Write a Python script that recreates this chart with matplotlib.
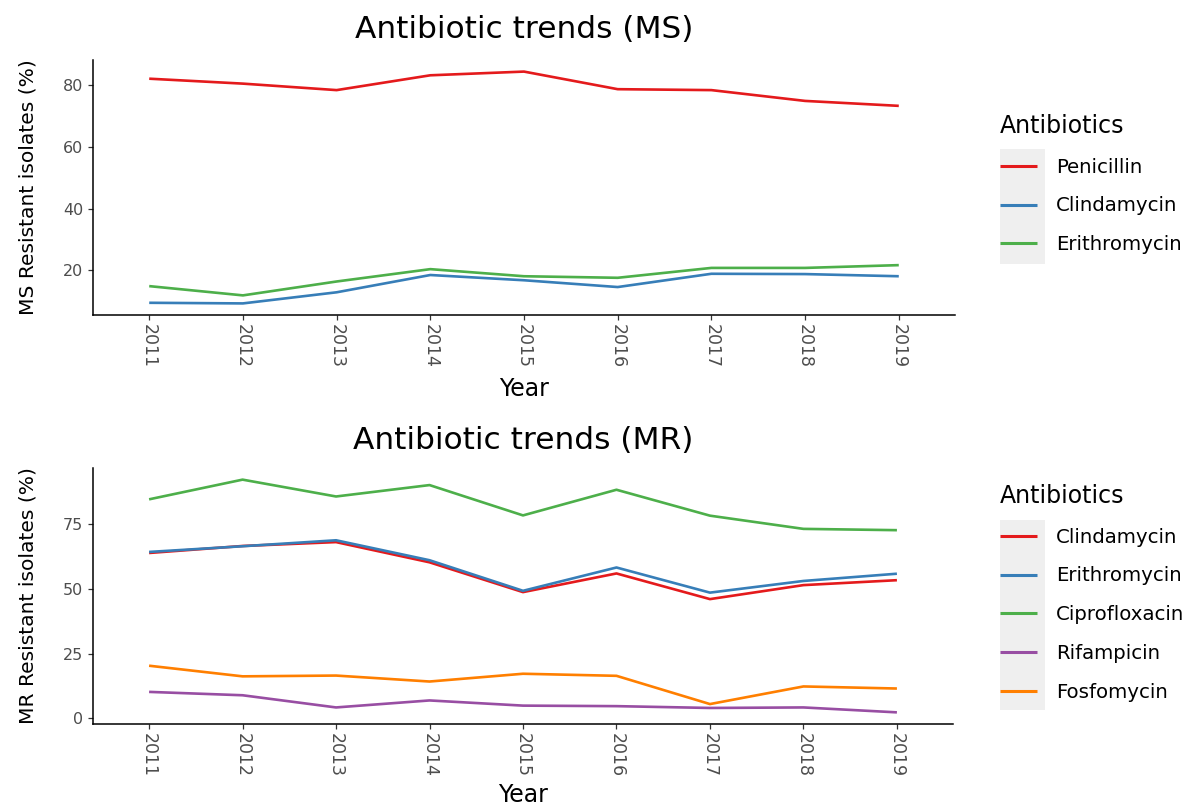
import matplotlib
matplotlib.use("Agg")
import matplotlib.pyplot as plt
from matplotlib.patches import Rectangle

years = [2011, 2012, 2013, 2014, 2015, 2016, 2017, 2018, 2019]

# MS isolates
ms_names = ["Penicillin", "Clindamycin", "Erithromycin"]
ms_penicillin = [82.1, 80.5, 78.4, 83.2, 84.4, 78.7, 78.4, 74.9, 73.3]
ms_clindamycin = [9.5, 9.3, 12.9, 18.5, 16.8, 14.6, 18.9, 18.8, 18.1]
ms_erithromycin = [14.9, 11.9, 16.4, 20.4, 18.1, 17.6, 20.8, 20.8, 21.7]

# MR isolates
mr_names = ["Clindamycin", "Erithromycin", "Ciprofloxacin", "Rifampicin", "Fosfomycin"]
mr_clindamycin = [63.8, 66.5, 68.0, 60.2, 48.7, 55.9, 46.0, 51.4, 53.3]
mr_erithromycin = [64.2, 66.4, 68.7, 61.0, 49.2, 58.2, 48.5, 53.0, 55.8]
mr_ciprofloxacin = [84.5, 92.1, 85.6, 90.0, 78.3, 88.2, 78.2, 73.1, 72.6]
mr_rifampicin = [10.2, 8.9, 4.2, 6.9, 4.9, 4.7, 4.0, 4.2, 2.3]
mr_fosfomycin = [20.3, 16.2, 16.5, 14.2, 17.2, 16.4, 5.5, 12.3, 11.5]

set1 = ["#E41A1C", "#377EB8", "#4DAF4A", "#984EA3", "#FF7F00"]

W, H = 1192, 807
fig = plt.figure(figsize=(W / 100, H / 100), dpi=100)


def px_box(left, top, right, bottom):
    return [left / W, 1 - bottom / H, (right - left) / W, (bottom - top) / H]


def panel(rect, series, names, title, ylabel, yticks, title_y, legend_top, key_box,
          xlabel_y=-0.245):
    ax = fig.add_axes(rect)
    for vals, name, col in zip(series, names, set1):
        ax.plot(years, vals, color=col, lw=1.9, label=name, solid_capstyle="butt")

    lo = min(min(s) for s in series)
    hi = max(max(s) for s in series)
    pad = 0.05 * (hi - lo)
    ax.set_ylim(lo - pad, hi + pad)
    ax.set_xlim(years[0] - 0.6, years[-1] + 0.6)

    ax.set_xticks(years)
    ax.set_xticklabels([str(y) for y in years], rotation=-90)
    ax.set_yticks(yticks)
    ax.tick_params(axis="both", colors="#333333", length=3.5, width=0.9,
                   labelsize=11.5, labelcolor="#4D4D4D")
    ax.tick_params(axis="x", pad=3, labelsize=12.5)
    for s in ["top", "right"]:
        ax.spines[s].set_visible(False)
    for s in ["left", "bottom"]:
        ax.spines[s].set_linewidth(1.1)
        ax.spines[s].set_color("black")

    ax.set_xlabel("Year", fontsize=17)
    ax.xaxis.set_label_coords(0.5, xlabel_y)
    ax.set_ylabel(ylabel, fontsize=14.6)
    ax.yaxis.label.set_va("center")
    ax.yaxis.set_label_coords(-0.075, 0.5)

    fig.text(0.5 * (rect[0] * 2 + rect[2]), 1 - title_y / H, title,
             fontsize=22.5, ha="center", va="center")

    # grey band behind the legend keys
    kx0, ky0, kx1, ky1 = key_box
    fig.patches.append(Rectangle((kx0 / W, 1 - ky1 / H), (kx1 - kx0) / W, (ky1 - ky0) / H,
                                 transform=fig.transFigure, facecolor="#EFEFEF",
                                 edgecolor="none", zorder=-1))
    leg = ax.legend(loc="upper left", bbox_to_anchor=(1000 / W, 1 - legend_top / H),
                    bbox_transform=fig.transFigure, frameon=False, title="Antibiotics",
                    title_fontsize=17, fontsize=14.2, alignment="left", borderpad=0,
                    handlelength=1.9, handletextpad=0.95, labelspacing=1.0,
                    borderaxespad=0)
    for line in leg.get_lines():
        line.set_linewidth(2.2)
    return ax


panel(px_box(93, 60, 955, 315),
      [ms_penicillin, ms_clindamycin, ms_erithromycin], ms_names,
      "Antibiotic trends (MS)", "MS Resistant isolates (%)", [20, 40, 60, 80],
      30, 114, (1000, 149, 1045, 264))

panel(px_box(93, 468, 953, 724),
      [mr_clindamycin, mr_erithromycin, mr_ciprofloxacin, mr_rifampicin, mr_fosfomycin],
      mr_names,
      "Antibiotic trends (MR)", "MR Resistant isolates (%)", [0, 25, 50, 75],
      440, 484, (1000, 520, 1045, 710), xlabel_y=-0.232)

fig.savefig("out.png", dpi=100, facecolor="white")
